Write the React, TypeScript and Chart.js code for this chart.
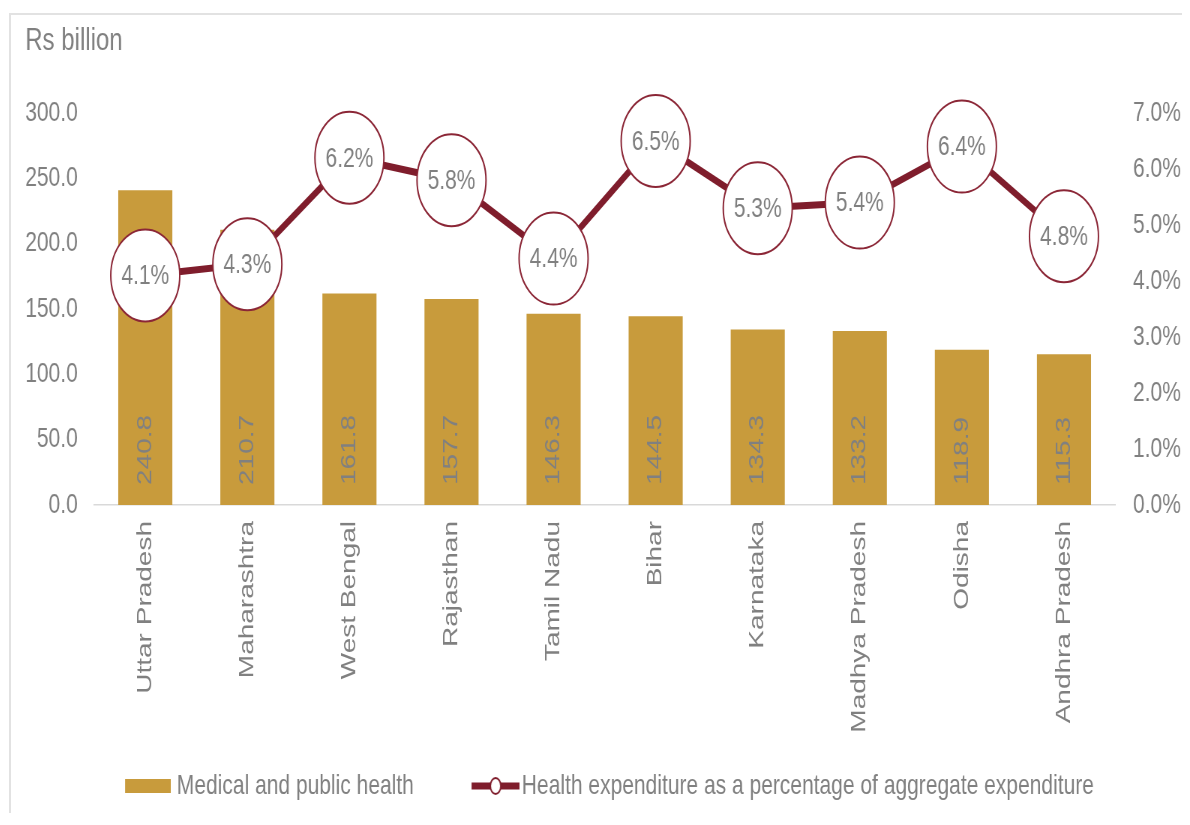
import React, { useEffect, useRef } from 'react';
import { Chart, registerables } from 'chart.js';

Chart.register(...registerables);

// ---- data ----
const states = [
  'Uttar Pradesh',
  'Maharashtra',
  'West Bengal',
  'Rajasthan',
  'Tamil Nadu',
  'Bihar',
  'Karnataka',
  'Madhya Pradesh',
  'Odisha',
  'Andhra Pradesh',
];
const medicalSpend = [240.8, 210.7, 161.8, 157.7, 146.3, 144.5, 134.3, 133.2, 118.9, 115.3];
const healthShare = [4.1, 4.3, 6.2, 5.8, 4.4, 6.5, 5.3, 5.4, 6.4, 4.8];
const barLegend = 'Medical and public health';
const lineLegend = 'Health expenditure as a percentage of aggregate expenditure';
const yTitle = 'Rs billion';

// ---- styles ----
const FONT = '"Liberation Sans", Arial, Helvetica, sans-serif';
const GRAY = '#808080';
const GOLD = '#C89B3C';
const MAROON = '#7F1D2C';
const SQUEEZE = 0.75;
const INNER_W = 1563;
const INNER_H = 798;

function makeBarSwatch(): HTMLCanvasElement {
  const c = document.createElement('canvas');
  c.width = 112;
  c.height = 20;
  const g = c.getContext('2d')!;
  g.fillStyle = GOLD;
  g.fillRect(51, 3, 61, 14);
  return c;
}

function makeLineSwatch(): HTMLCanvasElement {
  const c = document.createElement('canvas');
  c.width = 122;
  c.height = 24;
  const g = c.getContext('2d')!;
  g.strokeStyle = MAROON;
  g.lineWidth = 7;
  g.beginPath();
  g.moveTo(58, 12);
  g.lineTo(122, 12);
  g.stroke();
  g.beginPath();
  g.ellipse(90, 12, 7, 8, 0, 0, Math.PI * 2);
  g.fillStyle = '#ffffff';
  g.fill();
  g.lineWidth = 2;
  g.strokeStyle = MAROON;
  g.stroke();
  return c;
}

const titleText = {
  id: 'titleText',
  afterDraw(chart: any) {
    const ctx = chart.ctx;
    ctx.save();
    ctx.font = `32px ${FONT}`;
    ctx.fillStyle = GRAY;
    ctx.textAlign = 'left';
    ctx.textBaseline = 'middle';
    ctx.fillText(yTitle, 19, 26);
    ctx.restore();
  },
};

const valueLabels = {
  id: 'valueLabels',
  afterDatasetsDraw(chart: any) {
    const ctx = chart.ctx;
    ctx.save();
    ctx.font = `28px ${FONT}`;
    ctx.fillStyle = GRAY;
    const barMeta = chart.getDatasetMeta(0);
    barMeta.data.forEach((bar: any, i: number) => {
      const { x, base } = bar.getProps(['x', 'base'], true);
      ctx.save();
      ctx.translate(x, base - 20);
      ctx.rotate(-Math.PI / 2);
      ctx.textAlign = 'left';
      ctx.textBaseline = 'middle';
      ctx.fillText(medicalSpend[i].toFixed(1), 0, 0);
      ctx.restore();
    });
    const lineMeta = chart.getDatasetMeta(1);
    lineMeta.data.forEach((pt: any, i: number) => {
      const { x, y } = pt.getProps(['x', 'y'], true);
      ctx.textAlign = 'center';
      ctx.textBaseline = 'middle';
      ctx.fillText(healthShare[i].toFixed(1) + '%', x, y + 1);
    });
    ctx.restore();
  },
};

export default function App() {
  const canvasRef = useRef<HTMLCanvasElement | null>(null);

  useEffect(() => {
    if (!canvasRef.current) return;
    Chart.defaults.font.family = FONT;
    const barImg = makeBarSwatch();
    const lineImg = makeLineSwatch();

    const chart = new Chart(canvasRef.current, {
      type: 'bar',
      data: {
        labels: states,
        datasets: [
          {
            type: 'bar',
            label: barLegend,
            data: medicalSpend,
            backgroundColor: GOLD,
            borderWidth: 0,
            yAxisID: 'y',
            categoryPercentage: 1,
            barPercentage: 0.53,
            order: 2,
          },
          {
            type: 'line',
            label: lineLegend,
            data: healthShare,
            yAxisID: 'y1',
            borderColor: MAROON,
            borderWidth: 7,
            pointRadius: 46,
            pointHoverRadius: 46,
            pointBackgroundColor: '#ffffff',
            pointBorderColor: '#8B2636',
            pointBorderWidth: 2,
            pointHoverBorderWidth: 2,
            tension: 0,
            clip: false as any,
            order: 1,
          } as any,
        ],
      },
      options: {
        animation: false,
        responsive: true,
        maintainAspectRatio: false,
        layout: { padding: { left: -12, right: 0, top: 98, bottom: 3 } },
        plugins: {
          tooltip: { enabled: false },
          title: { display: false },
          legend: {
            display: true,
            position: 'bottom',
            align: 'center',
            onClick: () => {},
            labels: {
              usePointStyle: true,
              pointStyleWidth: 100,
              padding: 30,
              color: GRAY,
              font: { size: 28, family: FONT },
              generateLabels: () => [
                {
                  text: barLegend,
                  pointStyle: barImg as any,
                  fillStyle: GOLD,
                  strokeStyle: GOLD,
                  lineWidth: 0,
                  hidden: false,
                  datasetIndex: 0,
                  fontColor: GRAY,
                },
                {
                  text: lineLegend,
                  pointStyle: lineImg as any,
                  fillStyle: MAROON,
                  strokeStyle: MAROON,
                  lineWidth: 0,
                  hidden: false,
                  datasetIndex: 1,
                  fontColor: GRAY,
                },
              ],
            },
          },
        },
        scales: {
          x: {
            grid: { display: false, drawTicks: false },
            border: { display: true, color: '#d9d9d9', width: 1.5 },
            ticks: {
              color: GRAY,
              font: { size: 28, family: FONT },
              minRotation: 90,
              maxRotation: 90,
              autoSkip: false,
              padding: 16,
            },
            afterFit: (scale: any) => {
              scale.height = 237;
            },
          },
          y: {
            position: 'left',
            min: 0,
            max: 300,
            grid: { display: false, drawTicks: false },
            border: { display: false },
            ticks: {
              stepSize: 50,
              color: GRAY,
              font: { size: 28, family: FONT },
              padding: 22,
              callback: (v: any) => Number(v).toFixed(1),
            },
            afterFit: (scale: any) => {
              scale.width = 123;
            },
          },
          y1: {
            position: 'right',
            min: 0,
            max: 7,
            grid: { display: false, drawTicks: false },
            border: { display: false },
            ticks: {
              stepSize: 1,
              color: GRAY,
              font: { size: 28, family: FONT },
              padding: 24,
              callback: (v: any) => Number(v).toFixed(1) + '%',
            },
            afterFit: (scale: any) => {
              scale.width = 91;
            },
          },
        },
      },
      plugins: [valueLabels, titleText],
    });

    return () => {
      chart.destroy();
    };
  }, []);

  return (
    <div
      style={{
        marginTop: 5,
        marginLeft: 1,
        width: 1174,
        height: 800,
        boxSizing: 'border-box',
        borderTop: '2px solid #e2e2e2',
        borderLeft: '2px solid #e2e2e2',
        overflow: 'hidden',
        background: '#ffffff',
      }}
    >
      <div
        style={{
          position: 'relative',
          width: INNER_W,
          height: INNER_H,
          transform: `scaleX(${SQUEEZE})`,
          transformOrigin: '0 0',
        }}
      >
        <canvas ref={canvasRef} style={{ display: 'block' }} />
      </div>
    </div>
  );
}
